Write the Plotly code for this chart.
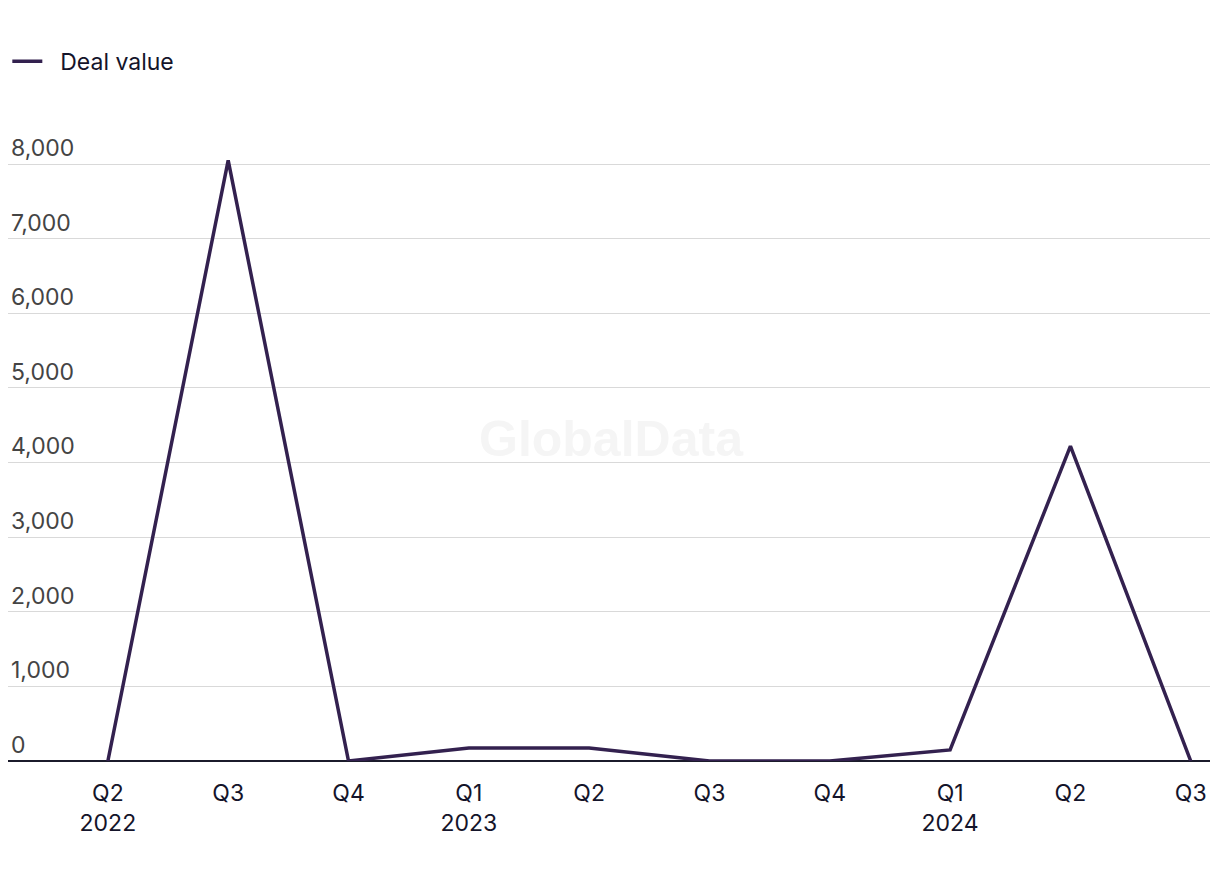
import plotly.graph_objects as go

quarters = ["Q2", "Q3", "Q4", "Q1", "Q2", "Q3", "Q4", "Q1", "Q2", "Q3"]
years = ["2022", "", "", "2023", "", "", "", "2024", "", ""]
deal_value = [0, 8050, 0, 175, 175, 0, 0, 148, 4220, 0]
y_ticks = [0, 1000, 2000, 3000, 4000, 5000, 6000, 7000, 8000]

x_idx = list(range(len(quarters)))
tick_text = [q + ("<br>" + y if y else "") for q, y in zip(quarters, years)]

fig = go.Figure()
fig.add_trace(go.Scatter(
    x=x_idx, y=deal_value, mode="lines", name="\u00a0\u00a0Deal value",
    line=dict(color="#33214f", width=3.5),
))

fig.add_annotation(
    text="<b>GlobalData</b>", xref="paper", yref="paper", x=0.502, y=0.487,
    showarrow=False, font=dict(size=50, color="#f5f5f5", family="Liberation Sans"),
)

fig.update_layout(
    width=1220, height=882,
    margin=dict(l=8, r=10, t=100, b=121),
    paper_bgcolor="white", plot_bgcolor="white",
    font=dict(family="Inter, Noto Sans, sans-serif", size=23, color="#14142a"),
    showlegend=True,
    legend=dict(x=0.006, y=0.955, xref="container", yref="container", xanchor="left", yanchor="top",
                orientation="h", font=dict(size=23, color="#14142a"),
                itemwidth=30, bgcolor="rgba(0,0,0,0)"),
    xaxis=dict(
        tickmode="array", tickvals=x_idx, ticktext=tick_text,
        range=[-0.83, 9.16], showgrid=False, zeroline=False,
        showline=False, ticks="", ticklabelstandoff=16,
    ),
    yaxis=dict(
        tickmode="array", tickvals=y_ticks, tickformat=",",
        range=[0, 8858], showgrid=True, gridcolor="#d9d9d9", gridwidth=1,
        zeroline=True, zerolinecolor="#1b1b2b", zerolinewidth=2,
        ticklabelposition="inside top", ticks="", showline=False,
    ),
)

fig.write_html("out.html")
